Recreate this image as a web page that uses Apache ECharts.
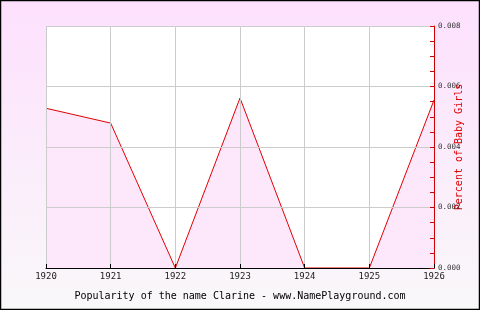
<!DOCTYPE html>
<html><head><meta charset="utf-8">
<script src="https://cdn.jsdelivr.net/npm/echarts@6/dist/echarts.min.js"></script>
<style>html,body{margin:0;padding:0;}#c{width:480px;height:310px;}</style>
</head><body><div id="c"></div>
<script>
const years = ['1920','1921','1922','1923','1924','1925','1926'];
const percents = [0.00528, 0.00479, 0, 0.00562, 0, 0, 0.00555];
const yTicks = [0, 0.002, 0.004, 0.006, 0.008];
const titleText = 'Popularity of the name Clarine - www.NamePlayground.com';
const yName = 'Percent of Baby Girls';

const chart = echarts.init(document.getElementById('c'), null, {renderer:'canvas'});
const mono = 'DejaVu Sans Mono';
chart.setOption({
  animation: false,
  backgroundColor: new echarts.graphic.LinearGradient(0,0,0,1,[{offset:0,color:'#fde0fd'},{offset:1,color:'#f9f8f9'}]),
  title: {text: titleText, left: 'center', top: 286, textStyle:{fontFamily:mono, fontSize:10, fontWeight:'normal', color:'#000'}},
  grid: {left:46, right:46, top:26, bottom:42, show:true, backgroundColor:'#fff', borderWidth:0, containLabel:false, outerBoundsMode:'none'},
  xAxis: {
    type:'category', data: years, boundaryGap:false, z:5,
    axisLine:{lineStyle:{color:'#000', width:1}},
    axisTick:{inside:true, length:4, lineStyle:{color:'#000'}},
    axisLabel:{fontFamily:mono, fontSize:9, color:'#222', margin:4, showMaxLabel:true},
    splitLine:{show:true, lineStyle:{color:'#cccccc'}}
  },
  yAxis: {
    type:'value', position:'right', min:0, max:0.008, interval:0.002, z:5,
    name: yName, nameLocation:'middle', nameGap:20, nameRotate:90, nameMoveOverlap:false,
    nameTextStyle:{fontFamily:mono, fontSize:10, color:'#e00000'},
    axisLine:{show:true, lineStyle:{color:'#d00000', width:1}},
    axisTick:{show:true, inside:true, length:4, lineStyle:{color:'#d00000'}},
    minorTick:{show:true, splitNumber:4, length:4, lineStyle:{color:'#d00000'}},
    axisLabel:{fontFamily:mono, fontSize:7.5, color:'#333', margin:4, formatter:v=>v.toFixed(3), verticalAlign:'middle'},
    splitLine:{show:true, lineStyle:{color:'#cccccc'}}
  },
  series: [{
    type:'line', data: percents, symbol:'none', z:2,
    lineStyle:{color:'#e00000', width:1},
    areaStyle:{color:'#fde8fb', opacity:1}
  }],
  graphic: [{type:'rect', shape:{x:0.5,y:0.5,width:479,height:309}, style:{fill:'none', stroke:'#000', lineWidth:1.5}, z:100}]
});
</script></body></html>
